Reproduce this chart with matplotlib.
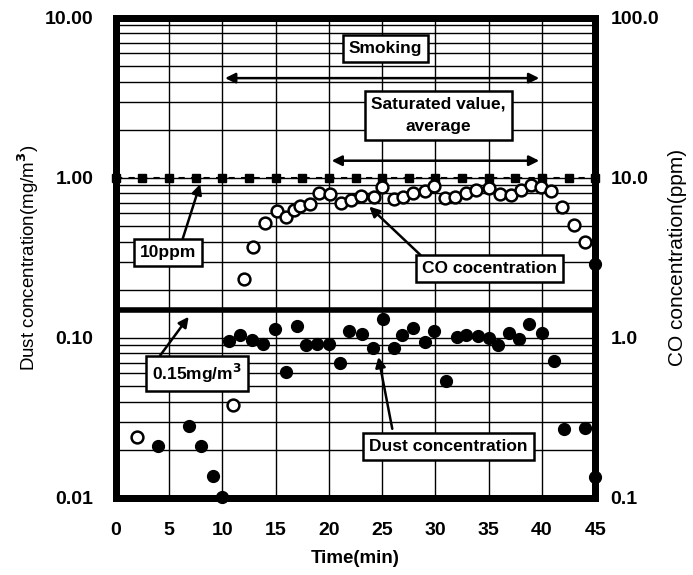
import numpy as np
import matplotlib
matplotlib.use("Agg")
import matplotlib.pyplot as plt
from matplotlib.ticker import FixedLocator, NullFormatter, LogLocator

plt.rcParams['font.family'] = ['Liberation Sans', 'DejaVu Sans']
plt.rcParams['font.weight'] = 'bold'

# CO concentration (ppm), open circles, right axis
co_time = [2, 11, 12, 12.9, 14, 15.1, 16, 16.7, 17.3, 18.2, 19.1, 20.1, 21.1, 22.1, 23,
           24.2, 25, 26.1, 27, 27.9, 29, 29.9, 30.9, 31.8, 32.9, 33.8, 35, 36.1,
           37.1, 38, 39, 39.9, 40.8, 41.9, 43, 44]
co_ppm = [0.24, 0.38, 2.35, 3.7, 5.2, 6.2, 5.7, 6.3, 6.7, 6.9, 8.0, 7.9, 7.0, 7.3, 7.7,
          7.6, 8.8, 7.4, 7.6, 8.0, 8.3, 8.9, 7.5, 7.6, 8.0, 8.4, 8.7, 7.9,
          7.8, 8.4, 9.0, 8.8, 8.3, 6.6, 5.1, 4.0]

# Dust concentration (mg/m3), filled circles, left axis
dust_time = [4, 6.9, 8, 9.1, 10, 10.6, 11.7, 12.8, 13.8, 14.9, 16, 17, 17.9, 18.9, 20,
             21, 21.9, 23.1, 24.1, 25.1, 26.1, 26.9, 27.9, 29, 29.9, 31, 32, 32.9,
             34, 35, 35.9, 36.9, 37.8, 38.8, 40, 41.1, 42.1, 44, 45, 45]
dust_mg = [0.021, 0.028, 0.021, 0.0137, 0.0102, 0.096, 0.105, 0.097, 0.091, 0.113,
           0.061, 0.118, 0.090, 0.091, 0.092, 0.070, 0.110, 0.106, 0.086, 0.132,
           0.087, 0.105, 0.115, 0.094, 0.110, 0.054, 0.101, 0.104, 0.103, 0.100,
           0.090, 0.107, 0.099, 0.123, 0.108, 0.072, 0.027, 0.0275, 0.0135, 0.29]

# reference levels
co_limit_ppm = 10.0
dust_limit = 0.15
ref_marks = np.arange(0, 45.1, 2.5)

fig = plt.figure(figsize=(6.93, 5.75), dpi=100)
ax = fig.add_axes([0.167, 0.134, 0.692, 0.835])
ax2 = ax.twinx()

ax.set_xlim(0, 45)
ax.set_yscale('log')
ax.set_ylim(0.01, 10)
ax2.set_yscale('log')
ax2.set_ylim(0.1, 100)

# grid
ax.set_xticks(range(0, 46, 5))
ax.xaxis.grid(True, color='black', lw=1.0)
ax.yaxis.set_minor_locator(LogLocator(base=10, subs=np.arange(2, 10)))
ax.yaxis.set_minor_formatter(NullFormatter())
ax.yaxis.grid(True, which='both', color='black', lw=1.0)
ax.tick_params(axis='both', which='both', length=0)
ax2.tick_params(axis='both', which='both', length=0)
ax2.yaxis.set_minor_formatter(NullFormatter())

ax.yaxis.set_major_locator(FixedLocator([0.01, 0.1, 1, 10]))
ax.set_yticklabels(['0.01', '0.10', '1.00', '10.00'], fontsize=14, fontweight='bold')
ax2.yaxis.set_major_locator(FixedLocator([0.1, 1, 10, 100]))
ax2.set_yticklabels(['0.1', '1.0', '10.0', '100.0'], fontsize=14, fontweight='bold')
ax.set_xticklabels([str(v) for v in range(0, 46, 5)], fontsize=14, fontweight='bold')
ax.tick_params(axis='y', pad=16)
ax.tick_params(axis='x', pad=17)
ax2.tick_params(axis='y', pad=11)

for a in (ax, ax2):
    for s in a.spines.values():
        s.set_linewidth(5)
        s.set_color('black')

# reference lines
ax.axhline(dust_limit, color='black', lw=4)
ax2.plot(ref_marks, [co_limit_ppm] * len(ref_marks), color='black', ls=(0, (3, 3)),
         lw=1.5, marker='s', ms=6, mfc='black', mec='black', clip_on=False)

# data
ax2.plot(co_time, co_ppm, 'o', ms=8.5, mfc='white', mec='black', mew=1.8, clip_on=False)
ax.plot(dust_time, dust_mg, 'o', ms=8.5, color='black', clip_on=False, zorder=5)

box = dict(boxstyle='square,pad=0.35', fc='white', ec='black', lw=1.8)
tkw = dict(fontsize=12.5, fontweight='bold', ha='center', va='center', bbox=box, zorder=6)
arr = dict(arrowstyle='-|>', color='black', lw=1.8, mutation_scale=15)
darr = dict(arrowstyle='<|-|>', color='black', lw=1.8, mutation_scale=15)

ax.text(25.3, 6.4, 'Smoking', **tkw)
ax.annotate('', xy=(10, 4.2), xytext=(40, 4.2), arrowprops=darr)
ax.text(30.3, 2.45, 'Saturated value,\naverage', linespacing=1.6, **tkw)
ax.annotate('', xy=(20, 1.28), xytext=(40, 1.28), arrowprops=darr)

ax.annotate('', xy=(8.0, 0.95), xytext=(6.2, 0.40), arrowprops=arr)
ax.text(4.9, 0.34, '10ppm', **tkw)

ax.annotate('', xy=(23.6, 0.68), xytext=(28.8, 0.32), arrowprops=arr)
ax.text(35.1, 0.27, 'CO cocentration', **tkw)

ax.annotate('', xy=(7.0, 0.14), xytext=(4.0, 0.075), arrowprops=arr)
ax.text(7.6, 0.060, '0.15mg/m$^\\mathbf{3}$', **tkw)

ax.annotate('', xy=(24.6, 0.079), xytext=(26.0, 0.026), arrowprops=arr)
ax.text(31.2, 0.021, 'Dust concentration', **tkw)

ax.set_xlabel('Time(min)', fontsize=13.5, fontweight='bold', labelpad=8)
ax.set_ylabel('Dust concentration(mg/m$^3$)', fontsize=13.5, fontweight='normal',
              labelpad=3)
ax2.set_ylabel('CO concentration(ppm)', fontsize=15, fontweight='normal',
               labelpad=6)

fig.savefig('out.png', dpi=100)
